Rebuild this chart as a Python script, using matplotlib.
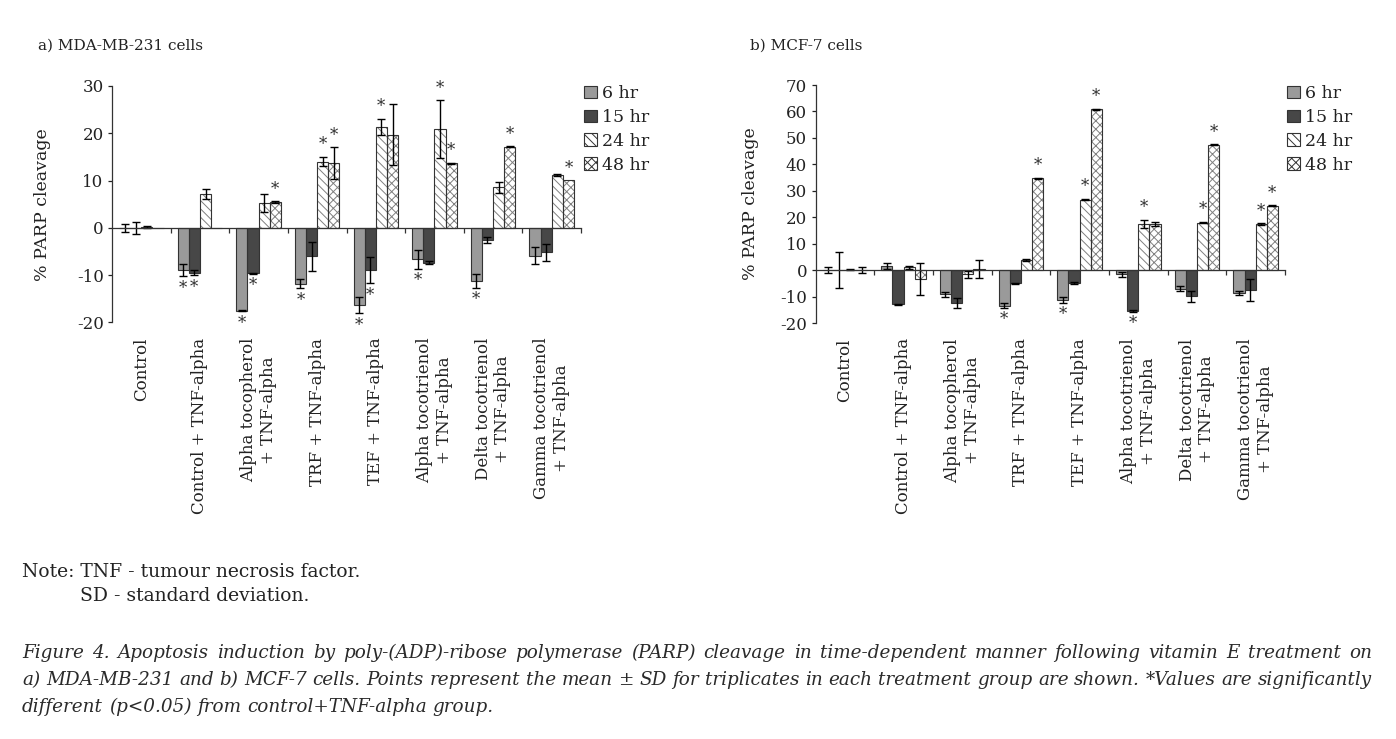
import numpy as np
import matplotlib
matplotlib.use("Agg")
import matplotlib.pyplot as plt
from matplotlib.patches import Patch

plt.rcParams['font.family'] = ['DejaVu Serif']
plt.rcParams['hatch.linewidth'] = 0.7
plt.rcParams['axes.unicode_minus'] = False

# ---------------- data ----------------
categories = ["Control", "Control + TNF-alpha", "Alpha tocopherol\n+ TNF-alpha",
              "TRF + TNF-alpha", "TEF + TNF-alpha", "Alpha tocotrienol\n+ TNF-alpha",
              "Delta tocotrienol\n+ TNF-alpha", "Gamma tocotrienol\n+ TNF-alpha"]
series_labels = ["6 hr", "15 hr", "24 hr", "48 hr"]

# a) MDA-MB-231 cells
a_6hr = [0.0, -8.9, -17.5, -11.8, -16.3, -6.6, -11.2, -5.9]
a_6hr_sd = [0.9, 1.3, 0.1, 1.0, 1.7, 2.0, 1.5, 1.8]
a_15hr = [0.0, -9.5, -9.6, -6.0, -8.9, -7.4, -2.6, -5.2]
a_15hr_sd = [1.3, 0.5, 0.1, 3.1, 2.8, 0.3, 0.6, 1.7]
a_24hr = [0.2, 7.2, 5.2, 14.0, 21.4, 20.9, 8.6, 11.2]
a_24hr_sd = [0.3, 1.0, 1.9, 1.0, 1.7, 6.1, 1.2, 0.3]
a_48hr = [0.0, 0.0, 5.4, 13.7, 19.7, 13.7, 17.2, 10.1]
a_48hr_sd = [0.0, 0.0, 0.2, 3.3, 6.5, 0.1, 0.1, 0.0]
a_sig_6hr = [0, 1, 1, 1, 1, 1, 1, 0]
a_sig_15hr = [0, 1, 1, 0, 1, 0, 0, 0]
a_sig_24hr = [0, 0, 0, 1, 1, 1, 0, 0]
a_sig_48hr = [0, 0, 1, 1, 0, 1, 1, 1]

# b) MCF-7 cells
b_6hr = [0.0, 1.6, -9.1, -13.4, -11.3, -1.6, -7.0, -8.6]
b_6hr_sd = [1.0, 1.1, 1.0, 0.9, 1.0, 0.9, 1.0, 0.8]
b_15hr = [0.0, -12.9, -12.4, -4.9, -4.9, -15.3, -9.9, -7.5]
b_15hr_sd = [6.8, 0.2, 1.9, 0.2, 0.3, 0.4, 2.1, 4.3]
b_24hr = [0.1, 1.0, -1.6, 3.8, 26.7, 17.6, 18.0, 17.4]
b_24hr_sd = [0.2, 0.5, 1.4, 0.4, 0.2, 1.5, 0.2, 0.3]
b_48hr = [0.0, -3.4, 0.4, 34.7, 60.9, 17.4, 47.4, 24.4]
b_48hr_sd = [1.2, 6.0, 3.4, 0.2, 0.2, 0.9, 0.2, 0.2]
b_sig_6hr = [0, 0, 0, 1, 1, 0, 0, 0]
b_sig_15hr = [0, 0, 0, 0, 0, 1, 0, 0]
b_sig_24hr = [0, 0, 0, 0, 1, 1, 1, 1]
b_sig_48hr = [0, 0, 0, 1, 1, 0, 1, 1]

a_yticks = [-20, -10, 0, 10, 20, 30]
b_yticks = [-20, -10, 0, 10, 20, 30, 40, 50, 60, 70]

# ---------------- styles ----------------
W, H = 1396, 739
TXT = '#222222'
EDGE = '#333333'
fills = ['#9a9a9a', '#474747', 'white', 'white']
hatches = [None, None, '\\\\\\\\', 'xxxx']
HATCH_C = '#808080'
BW = 0.19

fig = plt.figure(figsize=(W / 100, H / 100), dpi=100)


def fr(x0, y0, x1, y1):
    return [x0 / W, 1 - y1 / H, (x1 - x0) / W, (y1 - y0) / H]


def panel(ax, vals, sds, sigs, yticks, ylab_x, leg_xy, title, title_xy):
    n = len(categories)
    xs = np.arange(n)
    for k in range(4):
        pos = xs + (k - 1.5) * BW
        v = np.array(vals[k])
        s = np.array(sds[k])
        if hatches[k]:
            ax.bar(pos, v, BW, color=fills[k], edgecolor=HATCH_C, lw=0,
                   hatch=hatches[k], zorder=2)
        else:
            ax.bar(pos, v, BW, color=fills[k], lw=0, zorder=2)
        ax.bar(pos, v, BW, fill=False, edgecolor=EDGE, lw=0.8, zorder=3)
        m = s > 0
        ax.errorbar(pos[m], v[m], yerr=s[m], fmt='none', ecolor='black',
                    elinewidth=1.0, capsize=3, capthick=1.0, zorder=4)
        for i in range(n):
            if sigs[k][i]:
                sgn = 1 if v[i] >= 0 else -1
                end = v[i] + sgn * s[i]
                ax.annotate('*', (pos[i], end), xytext=(0, sgn * 12),
                            textcoords='offset pixels', ha='center',
                            va='center', fontsize=12, color='#333333')
    ax.set_xlim(-0.5, n - 0.5)
    ax.set_ylim(yticks[0], yticks[-1])
    ax.set_yticks(yticks)
    ax.tick_params(axis='y', direction='out', length=3, width=0.9,
                   labelsize=12, colors=TXT, pad=3)
    for sp in ['top', 'right']:
        ax.spines[sp].set_visible(False)
    ax.spines['left'].set_color(EDGE)
    ax.spines['left'].set_linewidth(0.9)
    ax.spines['bottom'].set_position(('data', 0))
    ax.spines['bottom'].set_color(EDGE)
    ax.spines['bottom'].set_linewidth(0.9)
    ax.spines['bottom'].set_zorder(5)
    ax.set_xticks(np.arange(n) + 0.5)
    ax.tick_params(axis='x', direction='out', length=3.5, width=0.9,
                   labelbottom=False, color=EDGE)
    sec = ax.secondary_xaxis('bottom')
    sec.set_xticks(xs)
    sec.set_xticklabels(categories, rotation=90, ha='center', va='top',
                        multialignment='center', fontsize=12, color=TXT)
    sec.tick_params(length=0, pad=11)
    sec.spines['bottom'].set_visible(False)
    ax.set_ylabel('% PARP cleavage', fontsize=12.5, color=TXT)
    ax.yaxis.set_label_coords(ylab_x, 0.5)
    handles = [Patch(facecolor=fills[k], edgecolor=EDGE, hatch=hatches[k], lw=0.8)
               for k in range(4)]
    fig.legend(handles, series_labels, loc='upper left',
               bbox_to_anchor=(leg_xy[0] / W, 1 - leg_xy[1] / H),
               frameon=False, fontsize=12.5, handlelength=0.75,
               handleheight=0.75, handletextpad=0.3, labelspacing=0.4,
               borderpad=0, borderaxespad=0, labelcolor=TXT)
    fig.text(title_xy[0] / W, 1 - title_xy[1] / H, title, fontsize=11,
             color=TXT, ha='left', va='center')


axA = fig.add_axes(fr(112, 86, 581, 322.5))
panel(axA, [a_6hr, a_15hr, a_24hr, a_48hr],
      [a_6hr_sd, a_15hr_sd, a_24hr_sd, a_48hr_sd],
      [a_sig_6hr, a_sig_15hr, a_sig_24hr, a_sig_48hr],
      a_yticks, -0.13, (584, 85), 'a) MDA-MB-231 cells', (38, 46))

axB = fig.add_axes(fr(815.5, 85, 1285, 323))
panel(axB, [b_6hr, b_15hr, b_24hr, b_48hr],
      [b_6hr_sd, b_15hr_sd, b_24hr_sd, b_48hr_sd],
      [b_sig_6hr, b_sig_15hr, b_sig_24hr, b_sig_48hr],
      b_yticks, -0.12, (1287, 85), 'b) MCF-7 cells', (750, 46))

# ---------------- notes and caption ----------------
r = fig.canvas.get_renderer()
note_props = dict(fontsize=13.5, color=TXT, va='baseline', ha='left')
fig.text(22 / W, 1 - 577 / H, 'Note: TNF - tumour necrosis factor.', **note_props)
t_pre = fig.text(0, 0, 'Note: ', **note_props)
pre_w = t_pre.get_window_extent(r).width
t_pre.remove()
fig.text((22 + pre_w) / W, 1 - 601 / H, 'SD - standard deviation.', **note_props)

cap_lines = [
    "Figure 4. Apoptosis induction by poly-(ADP)-ribose polymerase (PARP) cleavage in time-dependent manner following vitamin E treatment on",
    "a) MDA-MB-231 and b) MCF-7 cells. Points represent the mean \u00b1 SD for triplicates in each treatment group are shown. *Values are significantly",
    "different (p<0.05) from control+TNF-alpha group.",
]
cap_props = dict(fontsize=13.2, color='#2a2a2a', style='italic', va='baseline', ha='left')
x0, x1 = 22, 1372
base_y = [658, 685, 712]
for li, line in enumerate(cap_lines):
    words = line.split(' ')
    texts = [fig.text(0, 0, w, **cap_props) for w in words]
    widths = [t.get_window_extent(r).width for t in texts]
    if li < len(cap_lines) - 1:
        gap = (x1 - x0 - sum(widths)) / (len(words) - 1)
    else:
        a = fig.text(0, 0, 'a a', **cap_props)
        b = fig.text(0, 0, 'aa', **cap_props)
        gap = a.get_window_extent(r).width - b.get_window_extent(r).width
        a.remove(); b.remove()
    x = x0
    for t, wd in zip(texts, widths):
        t.set_position((x / W, 1 - base_y[li] / H))
        x += wd + gap

fig.savefig('out.png', dpi=100)
